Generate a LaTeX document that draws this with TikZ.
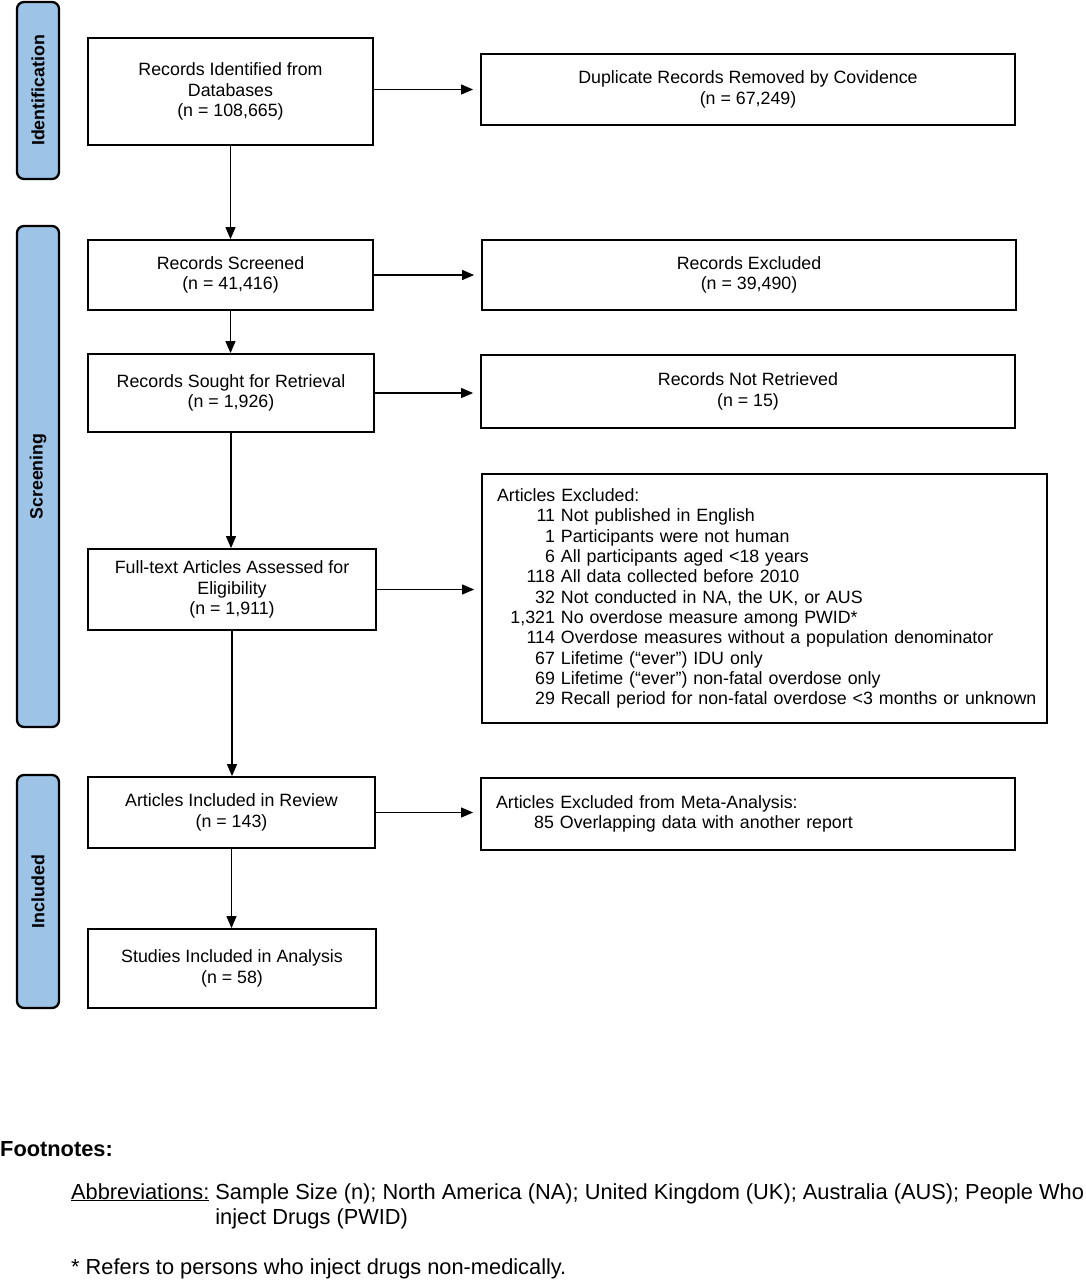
\documentclass[tikz,border=0pt]{standalone}
\usepackage{fontspec}
\setmainfont{Liberation Sans}
\usetikzlibrary{arrows.meta}
\definecolor{sideblue}{RGB}{157,195,230}
\newcommand{\mainf}{\fontsize{17.8}{20.3}\selectfont}
\newcommand{\sidef}{\fontsize{17.8}{20}\selectfont\bfseries}
\newcommand{\footf}{\fontsize{21.8}{25}\selectfont}
\newcommand{\nb}[1]{\makebox[58pt][r]{#1}}
\begin{document}
\begin{tikzpicture}[x=1pt,y=-1pt,
  box/.style={draw, line width=1.8pt, align=center, inner sep=0pt, font=\mainf, execute at begin node={\rule{0pt}{17.5pt}}},
  listbox/.style={draw, line width=1.8pt, align=left, inner xsep=15pt, inner ysep=0pt, font=\mainf},
  side/.style={draw, line width=2.3pt, rounded corners=7pt, fill=sideblue, rotate=90, inner sep=0pt, font=\sidef, minimum height=42pt},
  arr/.style={-{Triangle[length=12pt,width=10pt]}, line width=1.1pt},
  harr/.style={arr, shorten >=7pt},
  foot/.style={inner sep=0pt, font=\footf}
]
\useasboundingbox (0,0) rectangle (1085,1280);

% side labels
\node[side, minimum width=177pt] (s1) at (38,90.5) {Identification};
\node[side, minimum width=501pt] (s2) at (38,476.5) {Screening};
\node[side, minimum width=233pt] (s3) at (38,891.5) {Included};

% main boxes
\node[box, minimum width=285pt, minimum height=107pt] (b1) at (230.5,91.5) {Records Identified from\\Databases\\(n = 108,665)};
\node[box, minimum width=534pt, minimum height=71pt] (d1) at (748,89.5) {Duplicate Records Removed by Covidence\\(n = 67,249)};
\node[box, minimum width=285pt, minimum height=70pt] (b2) at (230.5,275) {Records Screened\\(n = 41,416)};
\node[box, minimum width=534pt, minimum height=70pt] (e2) at (749,275) {Records Excluded\\(n = 39,490)};
\node[box, minimum width=286pt, minimum height=78pt] (b3) at (231,393) {Records Sought for Retrieval\\(n = 1,926)};
\node[box, minimum width=534pt, minimum height=73pt] (e3) at (748,391.5) {Records Not Retrieved\\(n = 15)};
\node[box, minimum width=288pt, minimum height=81pt] (b4) at (232,589.5) {Full-text Articles Assessed for\\Eligibility\\(n = 1,911)};
\node[listbox, text width=535pt, minimum height=249pt] (e4) at (764.5,598.5) {Articles Excluded:\\
\nb{11} Not published in English\\
\nb{1} Participants were not human\\
\nb{6} All participants aged <18 years\\
\nb{118} All data collected before 2010\\
\nb{32} Not conducted in NA, the UK, or AUS\\
\nb{1,321} No overdose measure among PWID*\\
\nb{114} Overdose measures without a population denominator\\
\nb{67} Lifetime (“ever”) IDU only\\
\nb{69} Lifetime (“ever”) non-fatal overdose only\\
\mbox{\nb{29} Recall period for non-fatal overdose <3 months or unknown}};
\node[box, minimum width=287pt, minimum height=71pt] (b5) at (231.5,812.5) {Articles Included in Review\\(n = 143)};
\node[listbox, text width=504pt, minimum height=72pt] (e5) at (748,814) {Articles Excluded from Meta-Analysis:\\
\nb{85} Overlapping data with another report};
\node[box, minimum width=288pt, minimum height=79pt] (b6) at (232,968.5) {Studies Included in Analysis\\(n = 58)};

% vertical arrows
\draw[arr] (b1.south) -- (b1.south |- b2.north);
\draw[arr] (b2.south) -- (b2.south |- b3.north);
\draw[arr] (b3.south) -- (b3.south |- b4.north);
\draw[arr] (b4.south) -- (b4.south |- b5.north);
\draw[arr] (b5.south) -- (b5.south |- b6.north);

% horizontal arrows
\draw[harr] (b1.east |- d1.west) -- (d1.west);
\draw[harr] (b2.east) -- (e2.west);
\draw[harr] (b3.east) -- (b3.east -| e3.west);
\draw[harr] (b4.east) -- (b4.east -| e4.west);
\draw[harr] (b5.east) -- (b5.east -| e5.west);

% footnotes
\node[foot, anchor=base west, font=\footf\bfseries] (fn) at (0,1156) {Footnotes:};
\node[foot, anchor=base west] (ab) at (71,1199) {\begin{tabular}[t]{@{}l@{ }l@{}}\underline{Abbreviations:} & Sample Size (n); North America (NA); United Kingdom (UK); Australia (AUS); People Who\\ & inject Drugs (PWID)\end{tabular}};
\node[foot, anchor=base west] (st) at (71,1274) {* Refers to persons who inject drugs non-medically.};
\end{tikzpicture}
\end{document}
